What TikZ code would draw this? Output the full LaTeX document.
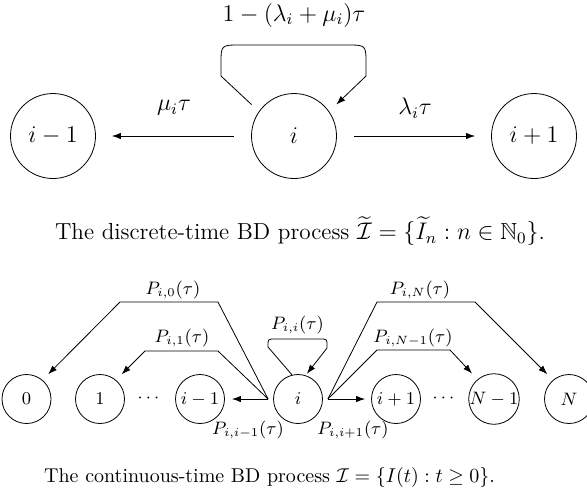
\documentclass[tikz,border=0pt]{standalone}
\usepackage{amsmath,amssymb}
\usetikzlibrary{arrows.meta, calc}

\begin{document}
\begin{tikzpicture}[
    x=0.5pt, y=-0.5pt,
    big/.style={font=\fontsize{11.6}{13}\selectfont},
    state/.style={draw, circle, inner sep=0pt, minimum size=42.5pt, big},
    smallstate/.style={draw, circle, inner sep=0pt, minimum size=24.5pt, font=\small},
    lbl/.style={inner sep=1pt, font=\small},
    flow/.style={-{Latex[length=4.5pt, width=3.2pt]}},
  ]
  \useasboundingbox (0,0) rectangle (587,495);
  % discrete-time chain
  \node[state] (tim) at (53,136) {$i-1$};
  \node[state] (ti)  at (294,136) {$i$};
  \node[state] (tip) at (534,136) {$i+1$};
  \draw[flow, shorten <=8.5pt, shorten >=8pt] (ti) -- (tim);
  \draw[flow, shorten <=8.5pt, shorten >=8pt] (ti) -- (tip);
  \draw[flow, shorten <=5pt, shorten >=5pt] (ti.145) -- (221,76) -- (221,64)
    .. controls (221,45) .. (240,45) -- (347,45)
    .. controls (366,45) .. (366,64) -- (366,76) -- (ti.35);
  \node[big] (lloop) at (294,15) {$1-(\lambda_i+\mu_i)\tau$};
  \node[big] (lmu) at (174,108) {$\mu_i\tau$};
  \node[big] (llam) at (415,108) {$\lambda_i\tau$};
  \node[big] (cap1) at (300,231) {The discrete-time BD process $\widetilde{\mathcal{I}}=\{\widetilde{I}_n : n\in\mathbb{N}_0\}$.};

  % continuous-time chain
  \node[smallstate] (b0)  at (26.5,399) {$0$};
  \node[smallstate] (b1)  at (100,399) {$1$};
  \node[smallstate] (bim) at (200,399) {$i-1$};
  \node[smallstate] (bi)  at (298,399) {$i$};
  \node[smallstate] (bip) at (396,399) {$i+1$};
  \node[smallstate] (bNm) at (494,399) {$N-1$};
  \node[smallstate] (bN)  at (569,399) {$N$};
  \node[lbl] (dl) at (150,398) {$\cdots$};
  \node[lbl] (dr) at (445,398) {$\cdots$};
  \coordinate (sl) at ($(bi.west)+(-5,0)$);
  \coordinate (sr) at ($(bi.east)+(5,0)$);
  \draw[flow, shorten >=3.5pt] (sl) -- (bim);
  \draw[flow, shorten >=3pt] (sr) -- (bip);
  \draw[flow, shorten >=4pt] (sl) -- (218,302) -- (120,302) -- (b0.50);
  \draw[flow, shorten >=4pt] (sl) -- (218,351) -- (145,351) -- (b1.50);
  \draw[flow, shorten >=4pt] (sr) -- (377,350) -- (450,350) -- (bNm.130);
  \draw[flow, shorten >=4pt] (sr) -- (377,302) -- (475,302) -- (bN.130);
  \draw[flow, shorten >=1pt] (bi.104) -- (268,347) -- (268,346)
    .. controls (268,339) .. (275,339) -- (320,339)
    .. controls (327,339) .. (327,346) -- (327,348) -- (bi.72);
  \node[lbl] (p0)   at (173,290) {$P_{i,0}(\tau)$};
  \node[lbl] (p1)   at (182,338) {$P_{i,1}(\tau)$};
  \node[lbl] (pii)  at (297.5,325) {$P_{i,i}(\tau)$};
  \node[lbl] (pN)   at (420,290) {$P_{i,N}(\tau)$};
  \node[lbl] (pNm)  at (413,338) {$P_{i,N-1}(\tau)$};
  \node[lbl] (pim)  at (248,430) {$P_{i,i-1}(\tau)$};
  \node[lbl] (pip)  at (353,430) {$P_{i,i+1}(\tau)$};
  \node (cap2) at (269.6,477) {The continuous-time BD process $\mathcal{I}=\{I(t) : t\ge 0\}$.};
\end{tikzpicture}
\end{document}
